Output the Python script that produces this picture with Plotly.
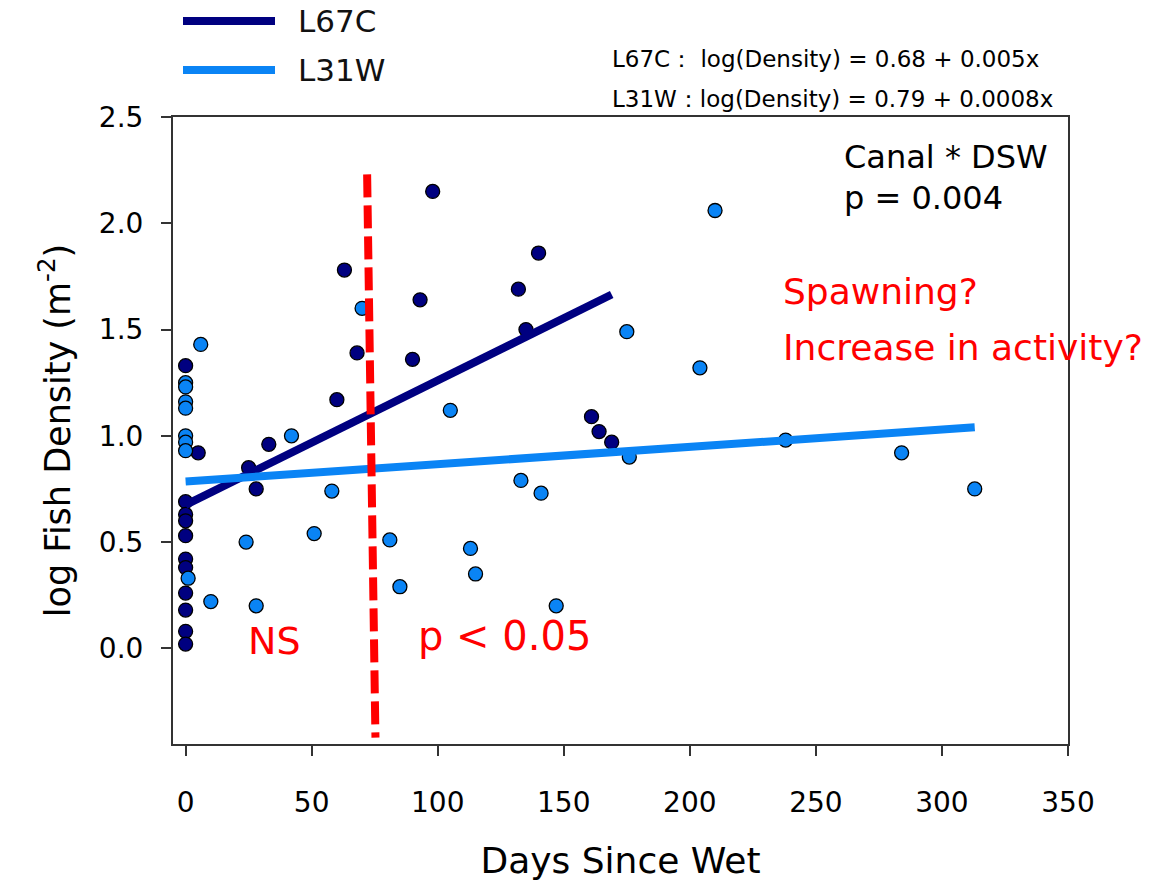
import plotly.graph_objects as go

# ---- data ----
l67c_x = [0, 0, 0, 0, 0, 0, 0, 0, 0, 0, 0, 5, 25, 28, 33, 60, 63, 68, 90, 93, 98,
          132, 135, 140, 161, 164, 169]
l67c_y = [1.33, 0.69, 0.63, 0.60, 0.53, 0.42, 0.38, 0.26, 0.18, 0.08, 0.02, 0.92,
          0.85, 0.75, 0.96, 1.17, 1.78, 1.39, 1.36, 1.64, 2.15, 1.69, 1.50, 1.86,
          1.09, 1.02, 0.97]

l31w_x = [0, 0, 0, 0, 0, 0, 0, 1, 6, 10, 24, 28, 42, 51, 58, 70, 81, 85, 105, 113,
          115, 133, 141, 147, 175, 176, 204, 210, 238, 284, 313]
l31w_y = [1.25, 1.23, 1.16, 1.13, 1.00, 0.97, 0.93, 0.33, 1.43, 0.22, 0.50, 0.20,
          1.00, 0.54, 0.74, 1.60, 0.51, 0.29, 1.12, 0.47, 0.35, 0.79, 0.73, 0.20,
          1.49, 0.90, 1.32, 2.06, 0.98, 0.92, 0.75]

fit_l67c_x = [0, 169]
fit_l67c_y = [0.675, 1.665]
fit_l31w_x = [0, 313]
fit_l31w_y = [0.785, 1.04]

divider_x = [72, 75.3]
divider_y = [2.23, -0.42]

y_ticks = [0.0, 0.5, 1.0, 1.5, 2.0, 2.5]
x_ticks = [0, 50, 100, 150, 200, 250, 300, 350]

NAVY = "#000080"
LIGHT = "#0A84F5"
RED = "#FF0000"
FONT = "DejaVu Sans"

fig = go.Figure()
fig.add_trace(go.Scatter(x=l67c_x, y=l67c_y, mode="markers", showlegend=False,
                         marker=dict(size=14, color=NAVY, line=dict(color="black", width=1.3))))
fig.add_trace(go.Scatter(x=l31w_x, y=l31w_y, mode="markers", showlegend=False,
                         marker=dict(size=14, color=LIGHT, line=dict(color="black", width=1.3))))
fig.add_trace(go.Scatter(x=fit_l67c_x, y=fit_l67c_y, mode="lines", showlegend=False,
                         line=dict(color=NAVY, width=8)))
fig.add_trace(go.Scatter(x=fit_l31w_x, y=fit_l31w_y, mode="lines", showlegend=False,
                         line=dict(color=LIGHT, width=8)))
fig.add_trace(go.Scatter(x=divider_x, y=divider_y, mode="lines", showlegend=False,
                         line=dict(color=RED, width=8, dash="23px,8px")))

axis_common = dict(showline=True, linecolor="#333333", linewidth=2, mirror=True,
                   ticks="outside", ticklen=10, tickwidth=2, tickcolor="#333333",
                   showgrid=False, zeroline=False)

fig.update_xaxes(range=[-5, 350], tickvals=x_ticks, ticktext=[str(v) for v in x_ticks],
                 ticklabelstandoff=22,
                 tickfont=dict(family=FONT, size=28, color="black"),
                 title=dict(text="Days Since Wet", font=dict(family=FONT, size=36, color="black"),
                            standoff=30),
                 **axis_common)
fig.update_yaxes(range=[-0.45, 2.5], tickvals=y_ticks, ticktext=[f"{v:.1f}" for v in y_ticks],
                 ticklabelstandoff=12,
                 tickfont=dict(family=FONT, size=28, color="black"),
                 title=dict(text="log Fish Density (m<sup>-2</sup>)",
                            font=dict(family=FONT, size=35, color="black"), standoff=18),
                 **axis_common)

W, H = 1155, 889
L, R, T, B = 173, 87, 117, 145
pw, ph = W - L - R, H - T - B


def px(xp):
    return (xp - L) / pw


def py(yp):
    return (H - B - yp) / ph


shapes = [
    dict(type="line", xref="paper", yref="paper", x0=px(183), x1=px(275), y0=py(21), y1=py(21),
         line=dict(color=NAVY, width=8)),
    dict(type="line", xref="paper", yref="paper", x0=px(183), x1=px(275), y0=py(70), y1=py(70),
         line=dict(color=LIGHT, width=8)),
]

annotations = [
    dict(text="L67C", xref="paper", yref="paper", x=px(296), y=py(21), xanchor="left",
         yanchor="middle", showarrow=False, font=dict(family=FONT, size=31, color="#111111")),
    dict(text="L31W", xref="paper", yref="paper", x=px(296), y=py(70), xanchor="left",
         yanchor="middle", showarrow=False, font=dict(family=FONT, size=31, color="#111111")),
    dict(text="L67C：\u00a0log(Density) = 0.68 + 0.005x", xref="paper", yref="paper",
         x=px(610), y=py(59), xanchor="left", yanchor="middle", showarrow=False,
         font=dict(family=FONT, size=23, color="black")),
    dict(text="L31W：log(Density) = 0.79 + 0.0008x", xref="paper", yref="paper",
         x=px(610), y=py(99), xanchor="left", yanchor="middle", showarrow=False,
         font=dict(family=FONT, size=23, color="black")),
    dict(text="Canal * DSW", xref="paper", yref="paper", x=px(842), y=py(157), xanchor="left",
         yanchor="middle", showarrow=False, font=dict(family=FONT, size=32, color="black")),
    dict(text="p = 0.004", xref="paper", yref="paper", x=px(842), y=py(198), xanchor="left",
         yanchor="middle", showarrow=False, font=dict(family=FONT, size=32, color="black")),
    dict(text="Spawning?", xref="paper", yref="paper", x=px(781), y=py(291), xanchor="left",
         yanchor="middle", showarrow=False, font=dict(family=FONT, size=36, color=RED)),
    dict(text="Increase in activity?", xref="paper", yref="paper", x=px(781), y=py(347),
         xanchor="left", yanchor="middle", showarrow=False,
         font=dict(family=FONT, size=36, color=RED)),
    dict(text="NS", xref="paper", yref="paper", x=px(246), y=py(641), xanchor="left",
         yanchor="middle", showarrow=False, font=dict(family=FONT, size=38, color=RED)),
    dict(text="p < 0.05", xref="paper", yref="paper", x=px(416), y=py(636), xanchor="left",
         yanchor="middle", showarrow=False, font=dict(family=FONT, size=40, color=RED)),
]

fig.update_layout(width=W, height=H, margin=dict(l=L, r=R, t=T, b=B),
                  plot_bgcolor="white", paper_bgcolor="white",
                  shapes=shapes, annotations=annotations, showlegend=False)

fig.write_html("out.html")
